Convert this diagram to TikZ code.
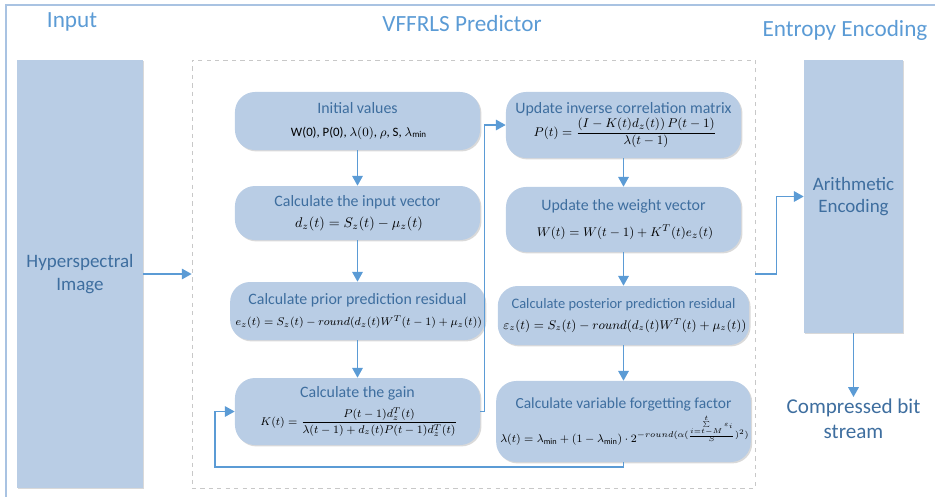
\documentclass[tikz,border=0pt]{standalone}
\usepackage{fontspec}
\usepackage{amsmath}
\setmainfont{Carlito}
\usetikzlibrary{arrows.meta,shadows}
\definecolor{boxfill}{HTML}{B9CDE5}
\definecolor{lineblue}{HTML}{5B9BD5}
\definecolor{headblue}{HTML}{5B9BD5}
\definecolor{textblue}{HTML}{3E6E9F}
\definecolor{framegray}{HTML}{C8C8C8}
\definecolor{frameblue}{HTML}{A9C3E2}
\tikzset{
  frame/.style={draw=frameblue, line width=1.2pt},
  head/.style={text=headblue, font=\fontsize{16.5}{19}\selectfont},
  bigblock/.style={fill=boxfill, text=textblue, align=center,
    font=\fontsize{13.5}{16}\selectfont,
    drop shadow={shadow xshift=1pt, shadow yshift=-1pt, opacity=0.15, fill=black}},
  predbox/.style={draw=framegray, dashed, minimum width=14.075cm, minimum height=10.7cm},
  stage/.style={fill=boxfill, rounded corners=0.5cm, align=center, inner sep=2pt,
    font=\fontsize{11.3}{13}\selectfont,
    drop shadow={shadow xshift=1pt, shadow yshift=-1pt, opacity=0.15, fill=black}},
  flow/.style={draw=lineblue, line width=1.1pt, -{Triangle[length=7pt,width=7.5pt]}},
}
\newcommand{\stitle}[1]{\textcolor{textblue}{#1}}
\newcommand{\fsz}[1]{\fontsize{#1}{#1}\selectfont}
\newcommand{\rnd}{\mathnormal{round}}
\begin{document}
\begin{tikzpicture}[x=0.025cm,y=-0.025cm]
  \useasboundingbox (0,0) rectangle (935,496);
  \clip (0,0) rectangle (935,496);
  \draw[frame] (6,5) rectangle (960,520);
  % column heads
  \node[head] (tin)   at (72,22)  {Input};
  \node[head] (tpred) at (462,24) {VFFRLS Predictor};
  \node[head] (tent)  at (845,30) {Entropy Encoding};
  % input, predictor frame, encoder
  \node[bigblock, minimum width=3.15cm, minimum height=10.7cm] (hyper) at (80,274) {Hyperspectral\\Image};
  \node[predbox] (pred) at (473.5,274) {};
  \node[bigblock, minimum width=2.475cm, minimum height=6.825cm] (arith) at (853.5,196.5) {Arithmetic\\Encoding};
  \node[text=textblue, align=center, font=\fontsize{15}{18}\selectfont, inner sep=1pt, anchor=north] (out) at (853.5,397) {Compressed bit\\stream};
  % left column
  \node[stage, minimum width=6.125cm, minimum height=1.45cm] (init) at (357.5,121)
    {\stitle{Initial values}\\[3pt] \fsz{9.1} W(0), P(0), $\lambda(0)$, $\rho$, S, $\lambda_{\min}$};
  \node[stage, minimum width=6.125cm, minimum height=1.35cm] (dvec) at (357.5,213)
    {\stitle{Calculate the input vector}\\[2pt] \fsz{9.6} $d_z(t)=S_z(t)-\mu_z(t)$};
  \node[stage, minimum width=6.125cm, minimum height=1.45cm] (prior) at (357.5,311)
    {\stitle{Calculate prior prediction residual}\\[2pt] \fsz{8.2} $e_z(t)=S_z(t)-\rnd(d_z(t)W^T(t-1)+\mu_z(t))$};
  \node[stage, minimum width=6.125cm, minimum height=1.675cm] (gain) at (357.5,411.5)
    {\stitle{Calculate the gain}\\[4pt] \fsz{8.3} $K(t)=\dfrac{P(t-1)d_z^T(t)}{\lambda(t-1)+d_z(t)P(t-1)d_z^T(t)}$};
  % right column
  \node[stage, minimum width=5.875cm, minimum height=1.65cm] (icorr) at (623.5,125)
    {\stitle{Update inverse correlation matrix}\\[1pt] \fsz{9.4} $P(t)=\dfrac{(I-K(t)d_z(t))\,P(t-1)}{\lambda(t-1)}$};
  \node[stage, minimum width=5.875cm, minimum height=1.625cm] (wvec) at (623.5,219.5)
    {\stitle{Update the weight vector}\\[6pt] \fsz{9.3} $W(t)=W(t-1)+K^T(t)e_z(t)$};
  \node[stage, minimum width=5.875cm, minimum height=1.475cm] (post) at (623.5,315.5)
    {\stitle{\fsz{10.3}Calculate posterior prediction residual}\\[2pt] \fsz{8.6} $\varepsilon_z(t)=S_z(t)-\rnd(d_z(t)W^T(t)+\mu_z(t))$};
  \node[stage, minimum width=5.875cm, minimum height=2.025cm, inner sep=1pt] (forget) at (623.5,421.5)
    {\stitle{\fsz{11}Calculate variable forgetting factor}\\[2pt] \fsz{8.4} $\lambda(t)=\lambda_{\min}+(1-\lambda_{\min})\cdot 2^{-\rnd(\alpha(\frac{\sum\limits_{i=t-M}^{t}\varepsilon_i}{S})^{2})}$};
  \coordinate (back) at (215,467);
  % connectors
  \draw[flow] (hyper.east) -- (pred.west);
  \draw[flow] (init) -- (dvec);
  \draw[flow] (dvec) -- (prior);
  \draw[flow] (prior) -- (gain);
  \draw[flow] (gain.east) -- ++(4,0) |- (icorr.west);
  \draw[flow] (icorr) -- (wvec);
  \draw[flow] (wvec) -- (post);
  \draw[flow] (post) -- (forget);
  \draw[flow] (forget.south) |- (back) |- (gain.west);
  \draw[flow] (pred.east) -- ++(21,0) |- (arith.west);
  \draw[flow] (arith.south) -- (out.north);
\end{tikzpicture}
\end{document}
